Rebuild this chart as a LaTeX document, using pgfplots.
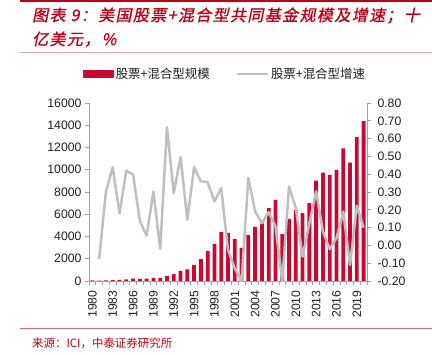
\documentclass[border=0pt]{standalone}
\usepackage{fontspec}
\usepackage{pgfplots}
\pgfplotsset{compat=1.18}
\setmainfont{Liberation Sans}
\newfontfamily\cjk{Noto Sans CJK SC}
\newfontfamily\cjktitle[FakeSlant=0.2,FakeBold=1.2,LetterSpace=9]{Noto Sans CJK SC}
\definecolor{barred}{RGB}{200,10,50}
\definecolor{linegray}{RGB}{191,191,191}
\definecolor{axgray}{RGB}{160,160,160}
\definecolor{titlered}{RGB}{190,0,20}
\definecolor{tickblack}{RGB}{30,30,30}
\definecolor{rulepink}{RGB}{230,170,170}
\definecolor{rulered}{RGB}{215,110,110}

\pgfplotstableread{
year size
1980 45
1981 42
1982 55
1983 85
1984 100
1985 140
1986 220
1987 200
1988 210
1989 290
1990 280
1991 470
1992 620
1993 920
1994 1050
1995 1440
1996 1960
1997 2700
1998 3340
1999 4390
2000 4330
2001 3760
2002 2980
2003 4120
2004 4870
2005 5170
2006 6560
2007 7290
2008 4210
2009 5590
2010 6400
2011 6100
2012 7010
2013 9020
2014 9740
2015 9530
2016 9980
2017 11930
2018 10640
2019 12960
2020 14370
}\sizetab

\pgfplotstableread{
year g
1981 -0.076
1982 0.303
1983 0.439
1984 0.181
1985 0.420
1986 0.397
1987 0.138
1988 0.055
1989 0.303
1990 -0.020
1991 0.664
1992 0.294
1993 0.497
1994 0.144
1995 0.439
1996 0.360
1997 0.356
1998 0.247
1999 0.322
2000 -0.025
2001 -0.129
2002 -0.200
2003 0.379
2004 0.190
2005 0.125
2006 0.187
2007 0.108
2008 -0.200
2009 0.331
2010 0.210
2011 -0.063
2012 0.125
2013 0.303
2014 0.078
2015 -0.020
2016 0.040
2017 0.190
2018 -0.110
2019 0.223
2020 0.100
}\growtab

\begin{document}
\begin{tikzpicture}
\path[use as bounding box] (0bp,0bp) rectangle (432bp,355bp);
\draw[titlered, line width=1.5bp] (20bp,354bp) -- (432bp,354bp);
\node[anchor=base west, inner sep=0, text=titlered, font=\cjktitle\fontsize{16}{18}\selectfont] at (32bp,334bp) {图表 9：美国股票+混合型共同基金规模及增速；十};
\node[anchor=base west, inner sep=0, text=titlered, font=\cjktitle\fontsize{16}{18}\selectfont] at (32bp,310bp) {亿美元，\%};
\draw[rulepink, line width=0.5bp] (20bp,303bp) -- (432bp,303bp);
\draw[rulered, line width=0.8bp] (20bp,27bp) -- (432bp,27bp);
\node[anchor=base west, inner sep=0, text=titlered, font=\cjk\fontsize{11.5}{13}\selectfont] at (32bp,8bp) {来源：ICI，中泰证券研究所};

\begin{axis}[
  at={(89bp,74bp)}, anchor=south west, scale only axis,
  width=278bp, height=178bp,
  xmin=1979.5, xmax=2020.5, ymin=0, ymax=16000,
  axis y line*=left, axis x line*=bottom,
  axis line style={axgray, line width=0.8bp, -},
  tick align=outside,
  tick style={axgray, line width=0.7bp},
  major tick length=4bp,
  ytick={0,2000,...,16000},
  scaled y ticks=false,
  yticklabel style={/pgf/number format/.cd, fixed, precision=0, 1000 sep={}},
  xtick={1979.5,1980.5,...,2020.5},
  xticklabels={},
  extra x ticks={1980,1983,1986,1989,1992,1995,1998,2001,2004,2007,2010,2013,2016,2019},
  extra x tick labels={1980,1983,1986,1989,1992,1995,1998,2001,2004,2007,2010,2013,2016,2019},
  extra x tick style={major tick length=0pt, tick label style={yshift=-6bp, rotate=90, anchor=east}},
  /pgf/number format/assume math mode=true,
  /pgf/number format/1000 sep={},
  tick label style={font=\fontsize{12.3}{14}\selectfont, text=tickblack},
  ybar, bar width=3.8bp,
  clip=false,
]
\addplot[fill=barred, draw=none] table[x=year, y=size] {\sizetab};
\end{axis}

\begin{axis}[
  at={(89bp,74bp)}, anchor=south west, scale only axis,
  width=278bp, height=178bp,
  xmin=1979.5, xmax=2020.5, ymin=-0.2, ymax=0.8,
  axis y line*=right, axis x line=none,
  axis line style={axgray, line width=0.8bp, -},
  tick align=outside,
  tick style={axgray, line width=0.7bp},
  major tick length=4bp,
  ytick={-0.2,-0.1,...,0.81},
  /pgf/number format/assume math mode=true,
  yticklabel style={xshift=3bp, /pgf/number format/.cd, fixed, fixed zerofill, precision=2},
  tick label style={font=\fontsize{12.3}{14}\selectfont, text=tickblack},
  clip=false,
  legend columns=2,
  legend style={at={(-0.021,1.163)}, anchor=west, draw=none, fill=none, inner sep=0pt,
    font=\cjk\fontsize{12.5}{14}\selectfont, text=tickblack,
    /tikz/every even column/.append style={column sep=24bp}},
]
\addlegendimage{legend image code/.code={\fill[barred] (0bp,-3.5bp) rectangle (30bp,3.5bp);}}
\addlegendentry{股票+混合型规模}
\addlegendimage{legend image code/.code={\draw[linegray, line width=2.2bp] (0bp,0bp) -- (31bp,0bp);}}
\addlegendentry{股票+混合型增速}
\addplot[linegray, line width=2.5bp, line join=round, forget plot] table[x=year, y=g] {\growtab};
\end{axis}
\end{tikzpicture}
\end{document}
